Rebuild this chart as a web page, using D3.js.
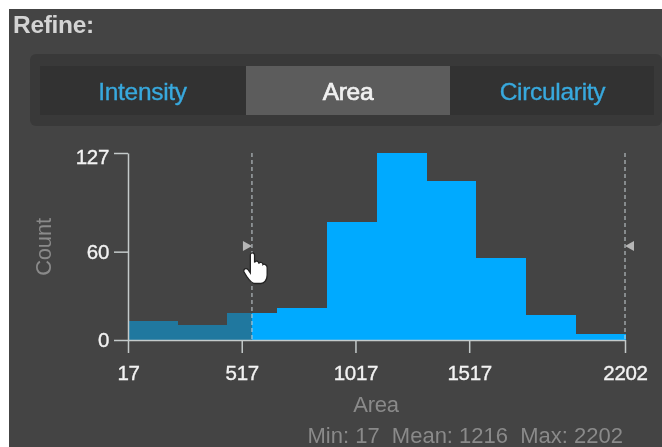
<!DOCTYPE html>
<html>
<head>
<meta charset="utf-8">
<script src="https://cdn.jsdelivr.net/npm/d3@7"></script>
<style>
  html, body { margin: 0; padding: 0; background: #fff; }
  svg { display: block; font-family: "Liberation Sans", Arial, sans-serif; filter: blur(0.5px); }
</style>
</head>
<body>
<div id="chart"></div>
<script>
// Histogram values
var binEdges = [17, 235.5, 454, 672.5, 891, 1109.5, 1328, 1546.5, 1765, 1983.5, 2202];
var counts = [13, 10, 18, 22, 80, 127, 108, 56, 17, 4];
var xTicks = [17, 517, 1017, 1517, 2202];
var yTicks = [0, 60, 127];
var tabs = ["Intensity", "Area", "Circularity"];
var activeTab = "Area";
var lowerCut = 562;
var upperCut = 2202;
var stats = "Min: 17  Mean: 1216  Max: 2202";

var w = 662;
var h = 447;

var bins = counts.map(function(c, i) {
    return {x0: binEdges[i], x1: binEdges[i + 1], count: c};
});

var svg = d3.select("#chart").append("svg")
    .attr("width", w)
    .attr("height", h);

// Panel background, white strip shows at top and left
svg.append("rect")
    .attr("x", 9).attr("y", 9)
    .attr("width", w - 9).attr("height", h - 9)
    .attr("fill", "#444444");

svg.append("text")
    .attr("x", 13).attr("y", 33)
    .attr("font-size", 24.5).attr("font-weight", "bold")
    .attr("letter-spacing", -0.3)
    .attr("fill", "#d4d4d4")
    .text("Refine:");

// Tab bar
svg.append("rect")
    .attr("x", 30).attr("y", 54)
    .attr("width", 632).attr("height", 72)
    .attr("rx", 6)
    .attr("fill", "#393939");

var tabX = d3.scaleOrdinal().domain(tabs).range([40, 246, 450]);
var tabW = d3.scaleOrdinal().domain(tabs).range([206, 204, 204]);
var tabLabelX = d3.scaleOrdinal().domain(tabs).range([142.5, 348, 552.5]);

var tab = svg.selectAll(".tab")
    .data(tabs)
    .enter()
    .append("g")
    .attr("class", "tab");

tab.append("rect")
    .attr("x", function(d) { return tabX(d); })
    .attr("y", 66)
    .attr("width", function(d) { return tabW(d); })
    .attr("height", 49)
    .attr("fill", function(d) { return d === activeTab ? "#5c5c5c" : "#323232"; });

tab.append("text")
    .attr("x", function(d) { return tabLabelX(d); })
    .attr("y", 100)
    .attr("text-anchor", "middle")
    .attr("font-size", 24.5)
    .attr("letter-spacing", -0.3)
    .attr("stroke-width", function(d) { return d === activeTab ? 0.7 : 0.35; })
    .attr("stroke", function(d) { return d === activeTab ? "#f0f0f0" : "#38a9de"; })
    .attr("fill", function(d) { return d === activeTab ? "#f0f0f0" : "#38a9de"; })
    .text(function(d) { return d; });

// Scales
var x = d3.scaleLinear().domain([17, 2202]).range([128, 625]);
var y = d3.scaleLinear().domain([0, 127]).range([340, 153]);

// Bars: the part below the lower cut is dimmed
svg.selectAll(".bar-dim")
    .data(bins.filter(function(d) { return d.x0 < lowerCut; }))
    .enter()
    .append("rect")
    .attr("class", "bar-dim")
    .attr("x", function(d) { return x(d.x0); })
    .attr("y", function(d) { return y(d.count); })
    .attr("width", function(d) { return x(Math.min(d.x1, lowerCut)) - x(d.x0); })
    .attr("height", function(d) { return y(0) - y(d.count); })
    .attr("shape-rendering", "crispEdges")
    .attr("fill", "#20789f");

svg.selectAll(".bar-on")
    .data(bins.filter(function(d) { return d.x1 > lowerCut; }))
    .enter()
    .append("rect")
    .attr("class", "bar-on")
    .attr("x", function(d) { return x(Math.max(d.x0, lowerCut)); })
    .attr("y", function(d) { return y(d.count); })
    .attr("width", function(d) { return x(d.x1) - x(Math.max(d.x0, lowerCut)) + 0.5; })
    .attr("height", function(d) { return y(0) - y(d.count); })
    .attr("shape-rendering", "crispEdges")
    .attr("fill", "#00aaff");

// Axes
var xAxis = d3.axisBottom(x).tickValues(xTicks).tickFormat(d3.format("d")).tickSize(13).tickSizeOuter(0);
var yAxis = d3.axisLeft(y).tickValues(yTicks).tickSize(14).tickSizeOuter(0);

var gx = svg.append("g")
    .attr("transform", "translate(0,340)")
    .call(xAxis);

var gy = svg.append("g")
    .attr("transform", "translate(128,0)")
    .call(yAxis);

[gx, gy].forEach(function(g) {
    g.selectAll("path, line").attr("stroke", "#c4caca").attr("stroke-width", 1.5);
    g.selectAll("text")
        .attr("fill", "#f2f2f2")
        .attr("stroke", "#f2f2f2")
        .attr("stroke-width", 0.35)
        .attr("font-size", 20.5)
        .attr("letter-spacing", -0.3)
        .attr("font-family", "'Liberation Sans', Arial, sans-serif");
});
gx.selectAll("text").attr("y", 25).attr("dy", "0.71em");
gy.selectAll("text")
    .attr("x", -19)
    .attr("dy", function(d) { return d === 127 ? "0.5em" : "0.32em"; });

// Axis titles
svg.append("text")
    .attr("transform", "translate(51,247) rotate(-90)")
    .attr("text-anchor", "middle")
    .attr("font-size", 22)
    .attr("letter-spacing", -0.2)
    .attr("fill", "#8a8a8a")
    .text("Count");

svg.append("text")
    .attr("x", 376).attr("y", 412)
    .attr("text-anchor", "middle")
    .attr("font-size", 22)
    .attr("letter-spacing", -0.3)
    .attr("fill", "#8a8a8a")
    .text("Area");

svg.append("text")
    .attr("x", 623).attr("y", 443)
    .attr("text-anchor", "end")
    .attr("font-size", 22)
    .style("white-space", "pre")
    .attr("fill", "#8a8a8a")
    .text(stats);

// Cut lines with their handles
svg.selectAll(".cut")
    .data([lowerCut, upperCut])
    .enter()
    .append("line")
    .attr("class", "cut")
    .attr("x1", function(d) { return x(d); })
    .attr("x2", function(d) { return x(d); })
    .attr("y1", y(127))
    .attr("y2", y(0))
    .attr("stroke", "#c9d2d6")
    .attr("stroke-width", 1)
    .attr("stroke-dasharray", "4,3");

svg.append("path")
    .attr("d", "M" + (x(lowerCut) - 9) + ",241 l9,5 l-9,5 z")
    .attr("fill", "#b5b5b5");

svg.append("path")
    .attr("d", "M" + (x(upperCut) + 9) + ",241 l-9,5 l9,5 z")
    .attr("fill", "#b5b5b5");

// Hand cursor
svg.append("path")
    .attr("transform", "translate(243,252) scale(1.05)")
    .attr("d", "M7,3 C7,0 11,0 11,3 L11,10 C12,8 15,8 15,11 C16,9 19,10 19,12 C20,11 23,12 23,15 L23,22 C23,27 20,30 17,30 L11,30 C8,30 6,27 4,24 L1,19 C0,16 3,15 5,17 L7,20 Z")
    .attr("fill", "#ffffff")
    .attr("stroke", "#222")
    .attr("stroke-width", 1.2);
</script>
</body>
</html>
